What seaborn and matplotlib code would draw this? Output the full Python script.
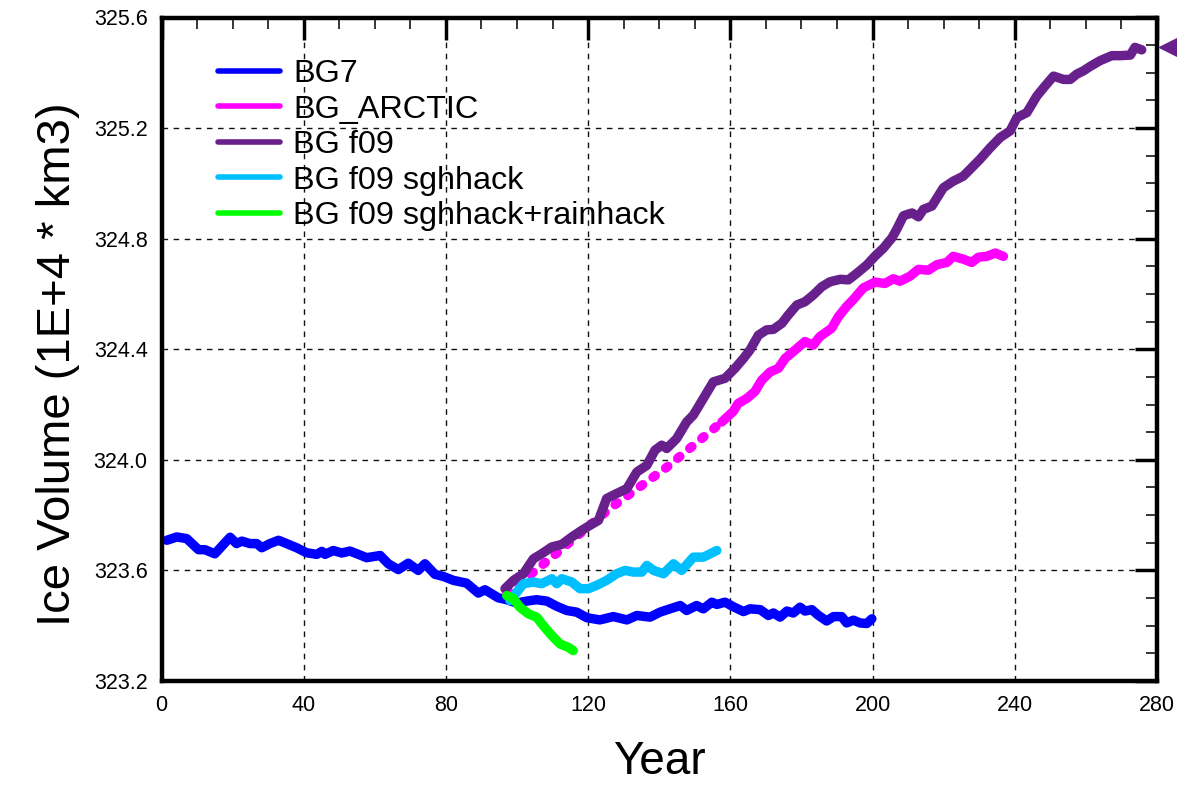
import matplotlib
matplotlib.use("Agg")
import matplotlib.pyplot as plt
import matplotlib.transforms as mtransforms
from matplotlib.lines import Line2D
from matplotlib.ticker import MultipleLocator, FormatStrFormatter
import seaborn as sns

# ---------------- data ----------------
bg7_years = [1.5, 4.3, 7.1, 10.4, 12.2, 15.0, 19.3, 21.1, 22.6, 24.9,
             26.8, 28.2, 30.5, 32.9, 35.2, 38.0, 40.8, 43.7, 45.1, 46.0,
             48.3, 50.7, 53.0, 55.4, 57.7, 61.5, 63.8, 66.6, 69.4, 72.2,
             74.1, 76.9, 79.3, 82.1, 85.8, 89.1, 91.0, 94.7, 97.1, 99.9,
             102.7, 105.5, 108.4, 111.2, 114.0, 116.8, 119.6, 123.3, 127.1, 130.9,
             133.7, 137.4, 140.2, 143.0, 145.9, 147.7, 150.5, 152.4, 154.8, 156.2,
             158.5, 160.8, 163.7, 165.5, 168.4, 170.7, 172.1, 174.0, 175.9, 177.7,
             179.6, 181.0, 182.9, 184.8, 187.1, 189.0, 191.3, 192.7, 194.6, 196.5,
             198.4, 199.8]
bg7_vals = [323.709, 323.721, 323.715, 323.675, 323.675, 323.660, 323.720, 323.697, 323.706, 323.697,
            323.697, 323.682, 323.697, 323.709, 323.697, 323.682, 323.664, 323.658, 323.669, 323.658,
            323.672, 323.663, 323.670, 323.658, 323.646, 323.654, 323.624, 323.603, 323.626, 323.600,
            323.624, 323.586, 323.578, 323.564, 323.554, 323.518, 323.530, 323.501, 323.494, 323.482,
            323.489, 323.494, 323.489, 323.470, 323.455, 323.449, 323.429, 323.421, 323.433, 323.421,
            323.437, 323.431, 323.449, 323.461, 323.473, 323.455, 323.473, 323.461, 323.485, 323.477,
            323.485, 323.469, 323.451, 323.461, 323.458, 323.437, 323.446, 323.431, 323.453, 323.446,
            323.467, 323.453, 323.458, 323.437, 323.417, 323.433, 323.433, 323.410, 323.420, 323.410,
            323.408, 323.425]

arctic_gap_years = [97.1, 110.0, 126.2, 142.1, 157.6]
arctic_gap_vals = [323.516, 323.650, 323.825, 323.973, 324.137]
arctic_years = [157.6, 160.8, 162.2, 164.6, 166.9, 168.8, 171.2, 173.5, 175.4, 178.2,
                181.0, 183.3, 185.2, 188.5, 190.4, 192.7, 194.6, 197.4, 200.7, 203.5,
                205.8, 207.7, 210.5, 212.9, 215.7, 218.1, 220.9, 222.7, 225.5, 227.9,
                229.8, 232.1, 234.5, 236.8]
arctic_vals = [324.137, 324.175, 324.204, 324.222, 324.247, 324.288, 324.318, 324.331, 324.367, 324.397,
               324.428, 324.415, 324.446, 324.476, 324.518, 324.555, 324.580, 324.622, 324.643, 324.638,
               324.655, 324.646, 324.664, 324.689, 324.686, 324.706, 324.714, 324.736, 324.726, 324.714,
               324.733, 324.736, 324.748, 324.736]

f09_years = [96.6, 99.0, 101.8, 104.6, 106.9, 109.8, 112.6, 115.4, 118.2, 120.5,
             122.9, 125.2, 128.0, 130.9, 133.7, 136.5, 138.8, 140.7, 142.1, 144.9,
             147.7, 149.6, 152.4, 155.2, 158.5, 161.3, 163.7, 165.5, 167.9, 170.2,
             172.1, 174.5, 176.3, 178.7, 181.0, 183.3, 185.7, 188.0, 190.9, 193.2,
             195.6, 198.4, 200.7, 203.0, 205.4, 206.8, 208.7, 211.1, 212.9, 214.3,
             216.7, 219.9, 222.7, 225.5, 227.9, 230.2, 233.1, 235.9, 238.7, 240.6,
             243.4, 246.2, 248.5, 250.9, 253.7, 255.6, 257.4, 259.3, 261.2, 264.0,
             267.3, 269.6, 272.5, 273.8, 275.7]
f09_vals = [323.534, 323.564, 323.588, 323.642, 323.660, 323.685, 323.694, 323.721, 323.745, 323.763,
            323.781, 323.860, 323.878, 323.896, 323.956, 323.980, 324.035, 324.053, 324.041, 324.077,
            324.137, 324.162, 324.222, 324.282, 324.295, 324.331, 324.367, 324.397, 324.451, 324.470,
            324.472, 324.494, 324.524, 324.560, 324.572, 324.596, 324.626, 324.644, 324.653, 324.651,
            324.675, 324.705, 324.737, 324.765, 324.802, 324.834, 324.883, 324.893, 324.879, 324.906,
            324.918, 324.984, 325.008, 325.026, 325.057, 325.087, 325.129, 325.166, 325.190, 325.238,
            325.256, 325.316, 325.352, 325.388, 325.376, 325.376, 325.395, 325.407, 325.423, 325.444,
            325.462, 325.462, 325.464, 325.492, 325.483]

sgh_years = [98.0, 99.9, 101.8, 104.6, 106.9, 109.8, 111.2, 112.6, 115.4, 117.7,
             120.1, 122.4, 125.2, 128.0, 130.4, 132.7, 135.1, 136.5, 138.4, 141.2,
             144.0, 146.3, 149.6, 152.4, 156.2]
sgh_vals = [323.491, 323.521, 323.552, 323.558, 323.552, 323.570, 323.552, 323.570, 323.558, 323.534,
            323.534, 323.546, 323.564, 323.588, 323.600, 323.594, 323.594, 323.618, 323.600, 323.588,
            323.624, 323.600, 323.648, 323.648, 323.672]

rain_years = [97.1, 99.0, 100.8, 103.2, 105.5, 107.4, 109.8, 112.1, 114.4, 115.8]
rain_vals = [323.509, 323.497, 323.467, 323.443, 323.431, 323.400, 323.364, 323.334, 323.322, 323.310]

labels = ["BG7", "BG_ARCTIC", "BG f09", "BG f09 sghhack", "BG f09 sghhack+rainhack"]
colors = ["#0000FF", "#FF00FF", "#68208C", "#00BFFF", "#00FF00"]

# ---------------- styling ----------------
sns.set_style("white")
plt.rcParams["font.family"] = ["Liberation Sans", "DejaVu Sans"]
plt.rcParams["text.color"] = "black"
plt.rcParams["axes.labelcolor"] = "black"
plt.rcParams["xtick.color"] = "black"
plt.rcParams["ytick.color"] = "black"

fig = plt.figure(figsize=(11.77, 7.85), dpi=100)
ax = fig.add_axes([161.5 / 1177, 1 - 681 / 785, (1157 - 161.5) / 1177, (681 - 17.5) / 785])

LW = 6.8
common = dict(ax=ax, estimator=None, sort=False, legend=False, linewidth=LW,
              solid_capstyle="round", solid_joinstyle="round")

sns.lineplot(x=bg7_years, y=bg7_vals, color=colors[0], **common)
sns.lineplot(x=arctic_gap_years, y=arctic_gap_vals, color=colors[1], ax=ax, estimator=None,
             sort=False, legend=False, linewidth=LW, linestyle=(0, (0.3, 1.35)),
             dash_capstyle="round")
sns.lineplot(x=arctic_years, y=arctic_vals, color=colors[1], **common)
sns.lineplot(x=f09_years, y=f09_vals, color=colors[2], **common)
sns.lineplot(x=sgh_years, y=sgh_vals, color=colors[3], **common)
sns.lineplot(x=rain_years, y=rain_vals, color=colors[4], **common)

# end-value marker outside the right axis
trans = mtransforms.blended_transform_factory(ax.transAxes, ax.transData)
ax.plot([1.011], [max(f09_vals)], marker="<", markersize=13, color=colors[2],
        transform=trans, clip_on=False, linestyle="none")

ax.set_xlim(0, 280)
ax.set_ylim(323.2, 325.6)
ax.xaxis.set_major_locator(MultipleLocator(40))
ax.xaxis.set_minor_locator(MultipleLocator(10))
ax.yaxis.set_major_locator(MultipleLocator(0.4))
ax.yaxis.set_minor_locator(MultipleLocator(0.1))
ax.yaxis.set_major_formatter(FormatStrFormatter("%.1f"))

ax.tick_params(which="major", direction="in", length=16, width=2.5, top=True, right=True,
               labelsize=15.5, pad=10, color="black", labelcolor="black")
ax.tick_params(which="minor", direction="in", length=8, width=1.1, top=True, right=True,
               color="black")
for s in ax.spines.values():
    s.set_linewidth(3.2)
    s.set_color("black")
    s.set_visible(True)

ax.grid(True, which="major", color="#111111", linestyle=(0, (4, 4)), linewidth=1.0)
ax.grid(False, which="minor")

ax.set_xlabel("Year", fontsize=33, color="black")
ax.set_ylabel("Ice Volume (1E+4 * km3)", fontsize=34, color="black")
ax.xaxis.set_label_coords(0.5, -0.089)
ax.yaxis.set_label_coords(-0.082, 0.477)

handles = [Line2D([0], [0], color=c, linewidth=4, solid_capstyle="round") for c in colors]
leg = ax.legend(handles, labels, loc="upper left", bbox_to_anchor=(0.0568, 0.937), frameon=False,
                fontsize=23.3, handlelength=1.9, handletextpad=0.42, labelspacing=0.17,
                borderpad=0, borderaxespad=0)
for t in leg.get_texts():
    t.set_color("black")

fig.savefig("out.png", dpi=100)
